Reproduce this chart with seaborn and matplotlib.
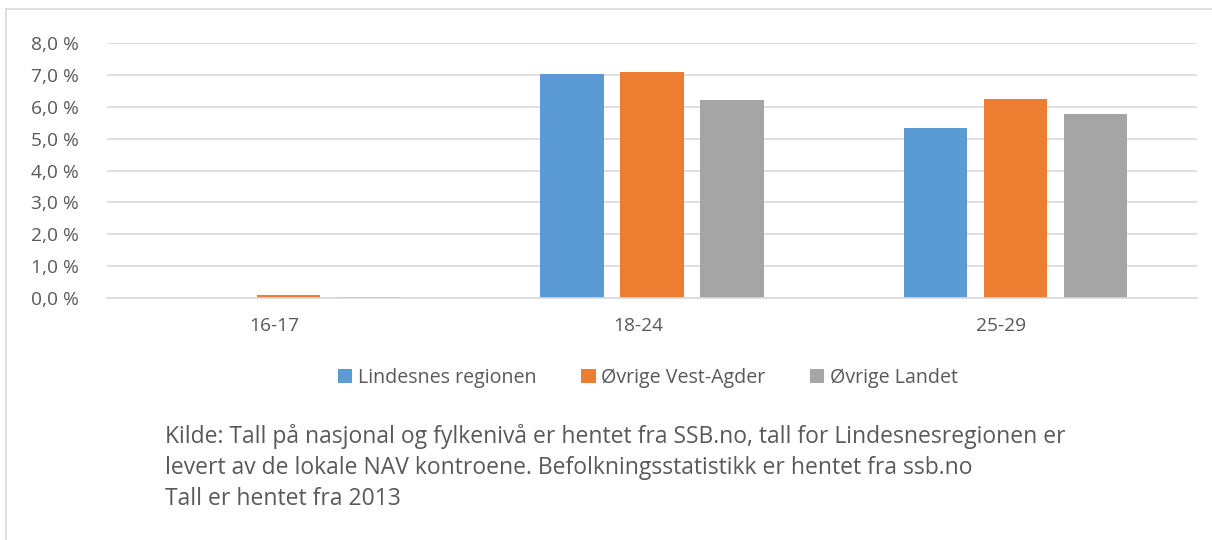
import matplotlib
matplotlib.use("Agg")
import matplotlib.pyplot as plt
from matplotlib.lines import Line2D
from matplotlib.ticker import FuncFormatter, MultipleLocator
from matplotlib.transforms import ScaledTranslation
import seaborn as sns
import pandas as pd

categories = ["16-17", "18-24", "25-29"]
series_names = ["Lindesnes regionen", "Øvrige Vest-Agder", "Øvrige Landet"]
lindesnes = [0.0, 7.04, 5.33]
vest_agder = [0.09, 7.08, 6.23]
landet = [0.02, 6.20, 5.78]
colors = ["#5B9BD5", "#ED7D31", "#A5A5A5"]
footnote = ("Kilde: Tall på nasjonal og fylkenivå er hentet fra SSB.no, tall for Lindesnesregionen er\n"
            "levert av de lokale NAV kontroene. Befolkningsstatistikk er hentet fra ssb.no\n"
            "Tall er hentet fra 2013")

rows = []
for name, vals in zip(series_names, [lindesnes, vest_agder, landet]):
    for c, v in zip(categories, vals):
        rows.append({"cat": c, "series": name, "value": v})
df = pd.DataFrame(rows)

sns.set_theme(style="white")
plt.rcParams["font.family"] = ["Open Sans", "DejaVu Sans"]
txt = "#595959"

fig = plt.figure(figsize=(12.12, 5.4), dpi=100)
ax = fig.add_axes([107/1212, 1-298/540, (1197-107)/1212, (298-43)/540])

sns.barplot(data=df, x="cat", y="value", hue="series", order=categories,
            hue_order=series_names, palette=colors, width=0.66, gap=0.21,
            saturation=1, ax=ax, legend=True, linewidth=0)

ax.set_ylim(0, 8)
ax.set_xlim(-0.5, 2.5)
ax.yaxis.set_major_locator(MultipleLocator(1))
ax.yaxis.set_major_formatter(FuncFormatter(lambda v, p: f"{v:.1f}".replace(".", ",") + " %"))
ax.grid(axis="y", color="#D9D9D9", linewidth=1.2)
ax.set_axisbelow(True)
for s in ["top", "right", "left"]:
    ax.spines[s].set_visible(False)
ax.spines["bottom"].set_color("#D9D9D9")
ax.spines["bottom"].set_linewidth(1.2)
ax.set_xlabel("")
ax.set_ylabel("")
ax.tick_params(axis="both", length=0, colors=txt, labelsize=13.8)
ax.tick_params(axis="y", pad=20)
ax.tick_params(axis="x", pad=14)
shift = ScaledTranslation(-14/100, 0, fig.dpi_scale_trans)
for lab in ax.get_xticklabels():
    lab.set_transform(lab.get_transform() + shift)

handles, labels = ax.get_legend_handles_labels()
ax.get_legend().remove()
fig.legend(handles, labels, loc="center", bbox_to_anchor=(648/1212, 1-378/540),
           ncol=3, frameon=False, fontsize=14.1, labelcolor=txt,
           handlelength=0.75, handleheight=0.75, handletextpad=0.3, columnspacing=2.25)

fig.text(165/1212, 1-424/540, footnote, ha="left", va="top", fontsize=16.5,
         color=txt, linespacing=1.38)

fig.add_artist(Line2D([6/1212, 1], [1-9/540, 1-9/540], color="#D9D9D9", lw=1.2,
                      transform=fig.transFigure))
fig.add_artist(Line2D([6/1212, 6/1212], [0, 1-9/540], color="#D9D9D9", lw=1.2,
                      transform=fig.transFigure))

fig.savefig("out.png", dpi=100, facecolor="white")
